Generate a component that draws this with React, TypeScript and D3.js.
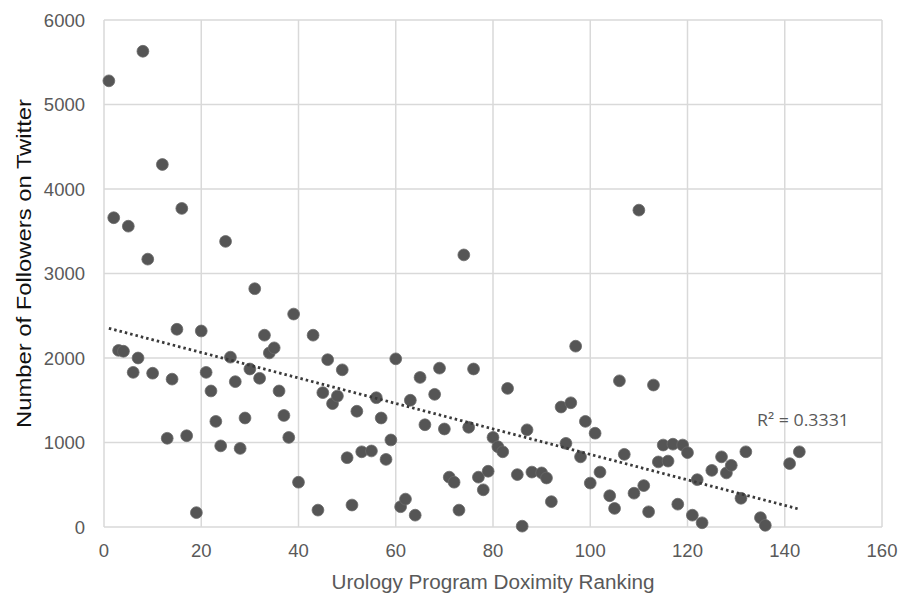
import * as d3 from 'd3';

// Doximity ranking (x) vs. number of Twitter followers (y)
const rankings = [
  1, 2, 8, 5, 9, 12, 16, 3, 4, 7, 6, 10, 14, 15, 20, 13, 17, 19, 25, 26,
  21, 22, 27, 23, 24, 28, 29, 31, 30, 32, 33, 34, 35, 36, 37, 38, 39, 40, 43, 44,
  45, 46, 47, 48, 49, 50, 51, 52, 53, 55, 56, 57, 58, 59, 60, 61, 62, 63, 64, 65,
  66, 68, 69, 70, 71, 72, 73, 74, 75, 76, 77, 78, 79, 80, 81, 82, 83, 85, 86, 87,
  88, 90, 91, 92, 94, 96, 95, 97, 98, 99, 100, 101, 102, 104, 105, 106, 107, 109, 110, 111,
  112, 113, 114, 115, 116, 117, 118, 119, 120, 121, 122, 123, 125, 127, 128, 129, 131, 132, 135, 136,
  141, 143,
];
const followers = [
  5280, 3660, 5630, 3560, 3170, 4290, 3770, 2090, 2080, 2000, 1830, 1820, 1750, 2340, 2320, 1050, 1080, 170, 3380, 2010,
  1830, 1610, 1720, 1250, 960, 930, 1290, 2820, 1870, 1760, 2270, 2060, 2120, 1610, 1320, 1060, 2520, 530, 2270, 200,
  1590, 1980, 1460, 1550, 1860, 820, 260, 1370, 890, 900, 1530, 1290, 800, 1030, 1990, 240, 330, 1500, 140, 1770,
  1210, 1570, 1880, 1160, 590, 530, 200, 3220, 1180, 1870, 590, 440, 660, 1060, 950, 890, 1640, 620, 10, 1150,
  650, 640, 580, 300, 1420, 1470, 990, 2140, 830, 1250, 520, 1110, 650, 370, 220, 1730, 860, 400, 3750, 490,
  180, 1680, 770, 970, 780, 980, 270, 970, 880, 140, 560, 50, 670, 830, 640, 730, 340, 890, 110, 20,
  750, 890,
];
const xTicks = [0, 20, 40, 60, 80, 100, 120, 140, 160];
const yTicks = [0, 1000, 2000, 3000, 4000, 5000, 6000];
const r2Label = 'R² = 0.3331';

const W = 908;
const H = 597;
const margin = { top: 20, right: 26, bottom: 70, left: 104 };
const font = 'Liberation Sans, Arial, sans-serif';

export default function App() {
  const x = d3.scaleLinear().domain([0, 160]).range([margin.left, W - margin.right]);
  const y = d3.scaleLinear().domain([0, 6000]).range([H - margin.bottom, margin.top]);

  const points = rankings.map((r, i) => ({ r, f: followers[i] }));

  // least squares trendline over the data range
  const mx = d3.mean(points, d => d.r) as number;
  const my = d3.mean(points, d => d.f) as number;
  const sxy = d3.sum(points, d => (d.r - mx) * (d.f - my));
  const sxx = d3.sum(points, d => (d.r - mx) ** 2);
  const slope = sxy / sxx;
  const icpt = my - slope * mx;
  const [x0, x1] = d3.extent(rankings) as [number, number];
  const trend = d3.line<number>().x(d => x(d)).y(d => y(icpt + slope * d))([x0, x1]);

  const grid = '#d9d9d9';
  const tickColor = '#595959';

  return (
    <div style={{ position: 'absolute', left: 0, top: 0 }}>
      <svg width={W} height={H} style={{ display: 'block', background: '#fff' }}>
        {/* gridlines */}
        {yTicks.map(t => (
          <line key={'gy' + t} x1={x(0)} x2={x(160)} y1={y(t)} y2={y(t)} stroke={grid} strokeWidth={1.5} />
        ))}
        {xTicks.map(t => (
          <line key={'gx' + t} x1={x(t)} x2={x(t)} y1={y(0)} y2={y(6000)} stroke={grid} strokeWidth={1.5} />
        ))}

        {/* tick labels */}
        {yTicks.map(t => (
          <text key={'ty' + t} x={x(0) - 19} y={y(t)} dy="0.36em" textAnchor="end"
            fontFamily={font} fontSize={18.5} fill={tickColor}>
            {t}
          </text>
        ))}
        {xTicks.map(t => (
          <text key={'tx' + t} x={x(t)} y={y(0) + 30} textAnchor="middle"
            fontFamily={font} fontSize={18.5} fill={tickColor}>
            {t}
          </text>
        ))}

        {/* axis titles */}
        <text x={(x(0) + x(160)) / 2} y={H - 8} textAnchor="middle"
          fontFamily={font} fontSize={19.5} fill={tickColor}
          textLength={323} lengthAdjust="spacingAndGlyphs">
          Urology Program Doximity Ranking
        </text>
        <text transform={`translate(31, ${(y(0) + y(6000)) / 2 - 10}) rotate(-90)`} textAnchor="middle"
          fontFamily={font} fontSize={19.5} fill="#111"
          textLength={329} lengthAdjust="spacingAndGlyphs">
          Number of Followers on Twitter
        </text>

        {/* points */}
        {points.map((d, i) => (
          <circle key={i} cx={x(d.r)} cy={y(d.f)} r={5.9} fill="#555555" stroke="#6a6a6a" strokeWidth={0.8} />
        ))}

        {/* trendline */}
        <path d={trend || ''} fill="none" stroke="#3a3a3a" strokeWidth={2.8} strokeDasharray="2.5,3" />

        <text x={757} y={426} fontFamily="Open Sans, Noto Sans, sans-serif" fontSize={17} fill={tickColor}
          textLength={92} lengthAdjust="spacingAndGlyphs">
          {r2Label}
        </text>
      </svg>
    </div>
  );
}
